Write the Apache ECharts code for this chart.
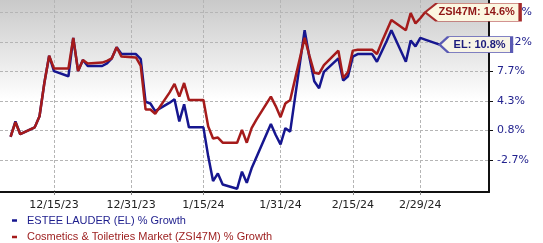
<!DOCTYPE html>
<html>
<head>
<meta charset="utf-8">
<script src="https://cdn.jsdelivr.net/npm/echarts@6/dist/echarts.min.js"></script>
<style>
html,body{margin:0;padding:0;background:#fff;}
#chart{width:543px;height:243px;}
</style>
</head>
<body>
<div id="chart"></div>
<script>
// ---- data ----
const dates = [
  '2023-12-06','2023-12-07','2023-12-08','2023-12-11','2023-12-12','2023-12-13','2023-12-14','2023-12-15',
  '2023-12-18','2023-12-19','2023-12-20','2023-12-21','2023-12-22','2023-12-25','2023-12-26','2023-12-27',
  '2023-12-28','2023-12-29','2024-01-01','2024-01-02','2024-01-03','2024-01-04','2024-01-05','2024-01-08',
  '2024-01-09','2024-01-10','2024-01-11','2024-01-12','2024-01-15','2024-01-16','2024-01-17','2024-01-18',
  '2024-01-19','2024-01-22','2024-01-23','2024-01-24','2024-01-25','2024-01-26','2024-01-29','2024-01-30',
  '2024-01-31','2024-02-01','2024-02-02','2024-02-05','2024-02-06','2024-02-07','2024-02-08','2024-02-09',
  '2024-02-12','2024-02-13','2024-02-14','2024-02-15','2024-02-16','2024-02-19','2024-02-20','2024-02-21',
  '2024-02-22','2024-02-23','2024-02-26','2024-02-27','2024-02-28','2024-02-29','2024-03-01','2024-03-04'
];
const elGrowth = [
  0.0, 1.8, 0.3, 1.1, 2.4, 6.3, 9.5, 7.7,
  7.1, 11.6, 7.7, 9.0, 8.3, 8.3, 8.6, 9.2,
  10.5, 9.7, 9.7, 9.1, 4.1, 3.9, 3.0, 4.0,
  4.4, 1.8, 3.8, 1.1, 1.1, -2.3, -5.2, -4.3,
  -5.6, -6.1, -4.1, -5.4, -3.7, -2.4, 1.5, 0.2,
  -0.9, 1.0, 0.6, 12.5, 9.3, 6.5, 5.7, 7.6,
  9.2, 6.6, 7.1, 9.4, 9.7, 9.7, 8.8, 10.0,
  11.2, 12.5, 8.8, 11.3, 10.6, 11.6, 11.4, 10.8
];
const zsiGrowth = [
  0.0, 1.7, 0.3, 1.1, 2.4, 6.3, 9.5, 8.0,
  8.0, 11.6, 7.7, 9.0, 8.6, 8.7, 8.9, 9.2,
  10.5, 9.4, 9.3, 8.3, 3.2, 3.2, 2.7, 5.2,
  6.2, 4.7, 6.3, 4.3, 4.3, 1.2, -0.2, -0.1,
  -0.7, -0.7, 0.8, -0.7, 1.0, 2.0, 4.7, 3.6,
  2.3, 3.9, 4.3, 11.6, 9.5, 7.5, 7.4, 8.4,
  10.1, 6.9, 7.6, 10.1, 10.2, 10.2, 9.7, 11.1,
  12.4, 13.7, 12.5, 14.5, 13.3, 13.9, 14.6
];
const xTickDates = ['2023-12-15','2023-12-31','2024-01-15','2024-01-31','2024-02-15','2024-02-29'];
const xTickLabels = ['12/15/23','12/31/23','1/15/24','1/31/24','2/15/24','2/29/24'];
const yTickValues = [-2.7, 0.76, 4.22, 7.68, 11.14, 14.6];
const yTickLabels = ['-2.7%','0.8%','4.3%','7.7%','11.2%','14.6%'];
const seriesNames = ['ESTEE LAUDER (EL) % Growth','Cosmetics & Toiletries Market (ZSI47M) % Growth'];
const endLabels = ['EL: 10.8%','ZSI47M: 14.6%'];

// ---- build ----
const ts = d => new Date(d + 'T00:00:00').getTime();
const elData = elGrowth.map((v, i) => [ts(dates[i]), v]);
const zsiData = zsiGrowth.map((v, i) => [ts(dates[i]), v]);
const xTickTs = xTickDates.map(ts);

const BLUE = '#16168f';
const RED = '#a51b1b';
const tagPath = 'path://M0,50 L12,0 L100,0 L100,100 L12,100 Z';

const legendBase = {
  orient: 'horizontal', left: 12, padding: 0,
  icon: 'rect', itemWidth: 5, itemHeight: 2.5,
  textStyle: {fontFamily: 'Liberation Sans', fontSize: 11, lineHeight: 13, padding: [0, 0, 0, 5]}
};

const chart = echarts.init(document.getElementById('chart'), null, {renderer: 'canvas'});
chart.setOption({
  animation: false,
  backgroundColor: '#ffffff',
  grid: {
    left: 0, right: 54, top: 0, bottom: 51, show: true, borderWidth: 0,
    backgroundColor: new echarts.graphic.LinearGradient(0, 0, 0, 1, [
      {offset: 0, color: '#c9c9c9'},
      {offset: 0.52, color: '#ffffff'},
      {offset: 1, color: '#ffffff'}
    ])
  },
  xAxis: {
    type: 'value',
    min: ts('2023-12-03') + 19.2 * 3600e3,
    max: ts('2024-03-14') + 6 * 3600e3,
    axisLine: {show: true, onZero: false, lineStyle: {color: '#111', width: 2}},
    axisTick: {show: true, length: 3, lineStyle: {color: '#888'}, customValues: xTickTs},
    axisLabel: {
      customValues: xTickTs,
      margin: 8,
      fontFamily: 'DejaVu Sans', fontSize: 11, color: '#222',
      formatter: v => { const i = xTickTs.indexOf(v); return i >= 0 ? xTickLabels[i] : ''; }
    },
    splitLine: {show: true, lineStyle: {color: '#b5b5b5', type: [3, 2], width: 1}}
  },
  yAxis: {
    type: 'value',
    position: 'right',
    min: -6.48, max: 16.04,
    axisLine: {show: true, lineStyle: {color: '#111', width: 2}},
    axisTick: {show: true, inside: false, length: 4, lineStyle: {color: '#111'}, customValues: yTickValues},
    axisLabel: {
      customValues: yTickValues,
      margin: 8,
      fontFamily: 'DejaVu Sans', fontSize: 11, color: '#23238f',
      formatter: v => { const i = yTickValues.indexOf(v); return i >= 0 ? yTickLabels[i] : ''; }
    },
    splitLine: {show: true, lineStyle: {color: '#b5b5b5', type: [3, 2], width: 1}}
  },
  legend: [
    Object.assign({}, legendBase, {top: 214, data: [{name: seriesNames[0], textStyle: {color: '#1c1c8c'}}]}),
    Object.assign({}, legendBase, {top: 230.5, data: [{name: seriesNames[1], textStyle: {color: '#9b1b1b'}}]})
  ],
  series: [
    {
      name: seriesNames[0], type: 'line', data: elData, showSymbol: false, symbol: 'none',
      color: BLUE, lineStyle: {color: BLUE, width: 2.5}, z: 3,
      markPoint: {
        symbol: tagPath, symbolSize: [72, 16], symbolKeepAspect: false, symbolOffset: [36, 0],
        itemStyle: {color: '#f7f4e6', borderColor: '#5a5ab4', borderWidth: 1.5},
        label: {show: true, position: 'inside', offset: [4, 0], color: '#1c1c7c', fontFamily: 'Liberation Sans', fontWeight: 'bold', fontSize: 11,
          formatter: () => endLabels[0]},
        data: [{coord: elData[elData.length - 1]}]
      }
    },
    {
      name: seriesNames[1], type: 'line', data: zsiData, showSymbol: false, symbol: 'none',
      color: RED, lineStyle: {color: RED, width: 2.5}, z: 4,
      markPoint: {
        symbol: tagPath, symbolSize: [95, 18], symbolKeepAspect: false, symbolOffset: [47.5, 0],
        itemStyle: {color: '#fcf7e1', borderColor: '#a52a2a', borderWidth: 1.5},
        label: {show: true, position: 'inside', offset: [4, 0], color: '#8f1515', fontFamily: 'Liberation Sans', fontWeight: 'bold', fontSize: 11,
          formatter: () => endLabels[1]},
        data: [{coord: zsiData[zsiData.length - 1]}]
      }
    }
  ]
});
</script>
</body>
</html>
